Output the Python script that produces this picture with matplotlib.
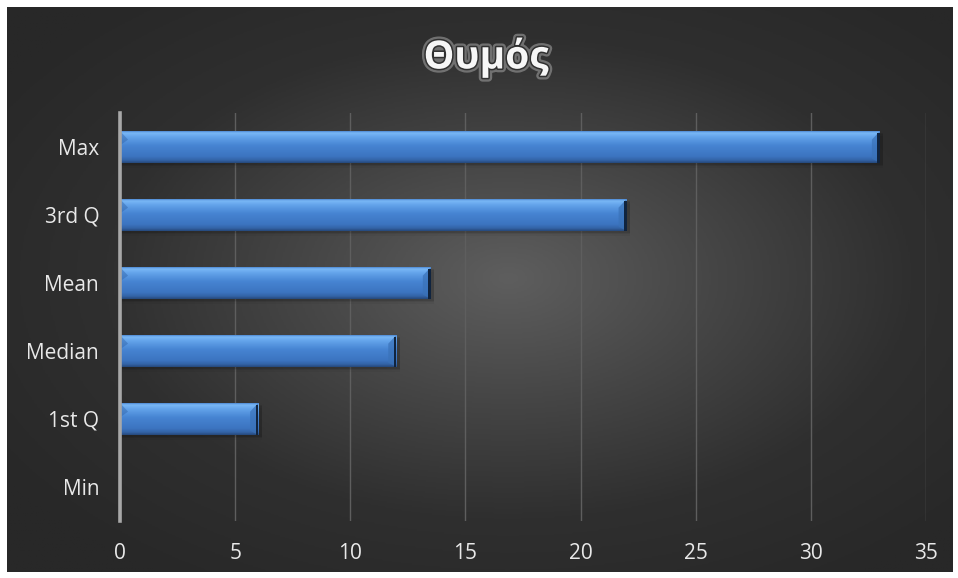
import numpy as np
import matplotlib
matplotlib.use("Agg")
import matplotlib.pyplot as plt
import matplotlib.patheffects as pe
from matplotlib.colors import LinearSegmentedColormap
from matplotlib.patches import Rectangle, Polygon

# Summary statistics of the score
categories = ["Min", "1st Q", "Median", "Mean", "3rd Q", "Max"]
values = [0, 6, 12, 13.5, 22, 33]
x_ticks = [0, 5, 10, 15, 20, 25, 30, 35]
title = "Θυμός"

W, H = 958, 578
fig = plt.figure(figsize=(W / 100, H / 100), dpi=100)
fig.patch.set_facecolor("white")

# Radial background, lighter in the middle, darker towards the edges
m_l, m_t, m_r, m_b = 7, 7, 5, 6
bg = fig.add_axes([m_l / W, m_b / H, (W - m_l - m_r) / W, (H - m_t - m_b) / H])
bg.set_axis_off()
yy, xx = np.mgrid[0:1:400j, 0:1:600j]
r = np.sqrt(((xx - 0.53) / 0.64) ** 2 + ((yy - 0.48) / 0.64) ** 2)
r = np.clip(r, 0, 1)
bg_cmap = LinearSegmentedColormap.from_list("bg", ["#5e5e5e", "#464646", "#2f2f2f", "#282828"])
bg.imshow(r, cmap=bg_cmap, aspect="auto", extent=[0, 1, 0, 1], vmin=0, vmax=1)
bg.set_xlim(0, 1)
bg.set_ylim(0, 1)

ax_left, ax_right = 120, 926
ax_top, ax_bot = 113, 521
ax = fig.add_axes([ax_left / W, (H - ax_bot) / H, (ax_right - ax_left) / W, (ax_bot - ax_top) / H])
ax.patch.set_alpha(0)

ypos = np.arange(len(categories))
bar_h = 0.47

for s in ["top", "right", "bottom"]:
    ax.spines[s].set_visible(False)
ax.spines["left"].set_color("#a8a8a8")
ax.spines["left"].set_linewidth(2.6)
ax.spines["left"].set_zorder(5)

ax.set_xticks(x_ticks)
ax.xaxis.grid(True, color="#5e5e5e", linewidth=1.0)
ax.set_axisbelow(True)
ax.tick_params(axis="x", length=0, pad=16, labelsize=15, labelcolor="#e8e8e8")
ax.set_yticks(ypos)
ax.set_yticklabels(categories)
ax.tick_params(axis="y", length=0, pad=15, labelsize=15, labelcolor="#e8e8e8")
for lbl in ax.get_xticklabels() + ax.get_yticklabels():
    lbl.set_family(["Open Sans", "DejaVu Sans"])

# top of the bar -> bottom of the bar
bar_cmap = LinearSegmentedColormap.from_list(
    "bar",
    [(0.0, "#4f8bd4"), (0.05, "#7ab8f6"), (0.18, "#63a3ea"), (0.45, "#4684d2"),
     (0.8, "#3c74c0"), (0.92, "#3363a6"), (1.0, "#26497c")],
)
grad = np.linspace(0, 1, 64).reshape(-1, 1)

bars = ax.barh(ypos, values, height=bar_h, color="#4684d2", linewidth=0, zorder=3)
for b, v in zip(bars, values):
    if v <= 0:
        continue
    y0 = b.get_y()
    # soft shadow beneath the bar
    for k, a in enumerate([0.10, 0.07, 0.04]):
        ax.add_patch(Rectangle((0.1, y0 - 0.03 - 0.02 * k), v + 0.05, bar_h, color="black",
                               alpha=a, linewidth=0, zorder=2))
    im = ax.imshow(grad, cmap=bar_cmap, aspect="auto", origin="upper",
                   extent=[0, v, y0, y0 + bar_h], zorder=3.5, interpolation="bilinear")
    im.set_clip_path(b)
    # bevelled ends
    dx = 0.35
    dy = bar_h * 0.45
    ax.add_patch(Polygon([[0, y0 + bar_h], [dx, y0 + bar_h - dy * 0.6], [0, y0 + bar_h - dy]],
                         closed=True, color="#2f62a8", alpha=0.45, linewidth=0, zorder=4))
    ax.add_patch(Polygon([[v, y0 + bar_h], [v - dx, y0 + bar_h - dy * 0.6],
                          [v - dx, y0 + dy * 0.3], [v, y0]],
                         closed=True, color="#3a72b8", alpha=0.7, linewidth=0, zorder=4))
    ax.add_patch(Rectangle((v - 0.11, y0), 0.11, bar_h * 0.94, color="#10243f", linewidth=0, zorder=4.5))

ax.set_xlim(0, 35)
ax.set_ylim(-0.5, len(categories) - 0.5)

fig.text(486 / W, 1 - 57 / H, title, ha="center", va="center", fontsize=28,
         fontweight="bold", color="#f6f6f6", family=["Open Sans", "DejaVu Sans"],
         path_effects=[pe.Stroke(linewidth=5.5, foreground="#8c8c8c", alpha=0.7),
                       pe.Stroke(linewidth=2.2, foreground="#303030"),
                       pe.Normal()])

fig.savefig("out.png", dpi=100, facecolor=fig.get_facecolor())
